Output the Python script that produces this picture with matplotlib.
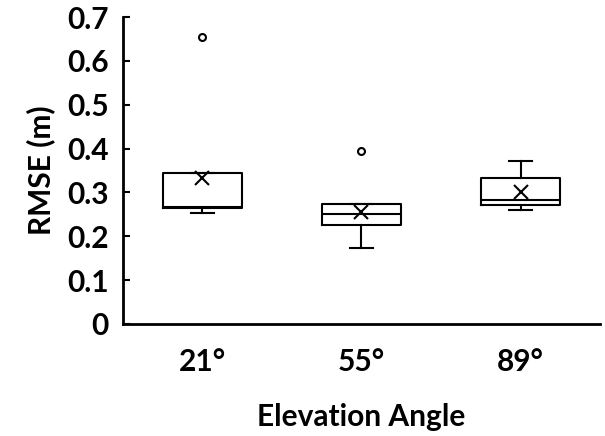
import matplotlib.pyplot as plt

# box statistics
angles = ["21°", "55°", "89°"]
q1 = [0.265, 0.226, 0.271]
med = [0.266, 0.250, 0.283]
q3 = [0.345, 0.273, 0.332]
whislo = [0.254, 0.173, 0.261]
whishi = [0.345, 0.273, 0.372]
means = [0.333, 0.256, 0.300]
fliers = [[0.655], [0.394], []]

plt.rcParams["font.family"] = ["Lato", "DejaVu Sans"]
plt.rcParams["font.weight"] = "bold"

stats = []
for i, lab in enumerate(angles):
    stats.append({
        "label": lab, "q1": q1[i], "med": med[i], "q3": q3[i],
        "whislo": whislo[i], "whishi": whishi[i], "mean": means[i],
        "fliers": fliers[i],
    })

fig = plt.figure(figsize=(6.05, 4.36), dpi=100)
ax = fig.add_axes([0.203, 0.257, 0.789, 0.704])

lw = 1.5
ax.bxp(
    stats, positions=[1, 2, 3], widths=0.5, capwidths=0.145,
    showmeans=True,
    boxprops=dict(color="black", linewidth=lw),
    medianprops=dict(color="black", linewidth=lw),
    whiskerprops=dict(color="black", linewidth=lw),
    capprops=dict(color="black", linewidth=lw),
    meanprops=dict(marker="x", markeredgecolor="black", markersize=10,
                   markeredgewidth=1.5),
    flierprops=dict(marker="o", markerfacecolor="none", markeredgecolor="black",
                    markersize=5, markeredgewidth=1.5),
)

ax.set_xlim(0.5, 3.5)
ax.set_ylim(0, 0.7)
ax.set_yticks([0, 0.1, 0.2, 0.3, 0.4, 0.5, 0.6, 0.7])
ax.set_yticklabels(["0", "0.1", "0.2", "0.3", "0.4", "0.5", "0.6", "0.7"])
ax.tick_params(axis="y", direction="in", length=5, width=1.5, pad=10, labelsize=21.5)
ax.tick_params(axis="x", length=0, pad=17, labelsize=21.5)

for s in ["top", "right"]:
    ax.spines[s].set_visible(False)
for s in ["left", "bottom"]:
    ax.spines[s].set_linewidth(2)

ax.set_ylabel("RMSE (m)", fontsize=21.5, fontweight="bold", labelpad=9)
ax.set_xlabel("Elevation Angle", fontsize=21.5, fontweight="bold", labelpad=20)

fig.savefig("out.png", dpi=100)
